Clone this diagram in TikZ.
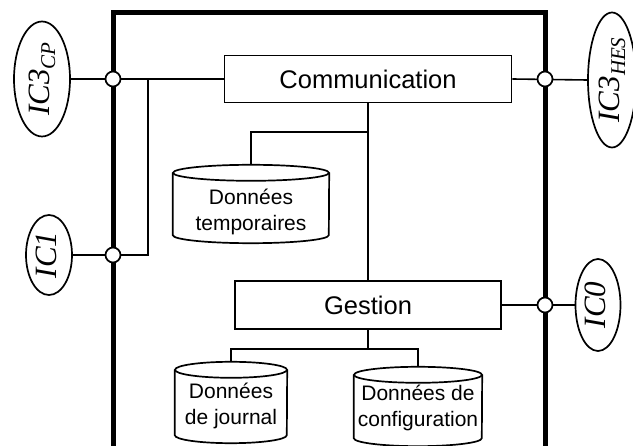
\documentclass[tikz,border=0pt]{standalone}
\usepackage{fontspec}
\setmainfont{Liberation Sans}
\newfontfamily\portfont{Liberation Serif}
\usetikzlibrary{shapes.geometric,calc}

% cylinder-shaped data store: name, cx, cy, width, height, text y, text
\newcommand\drum[7]{%
  \node[rectangle, inner sep=0pt, minimum width=#4pt, minimum height=#5pt] (#1) at (#2,#3) {};
  \draw[outline] ([yshift=-8pt]#1.north west) -- ([yshift=8pt]#1.south west)
    arc[start angle=180, end angle=360, x radius=#4pt/2, y radius=8pt]
    -- ([yshift=-8pt]#1.north east);
  \draw[outline] ([yshift=-8pt]#1.north) ellipse[x radius=#4pt/2, y radius=8pt];
  \node[store] (#1-label) at (#2,#6) {#7};
}
% rotated interface label
\newcommand\iface[2]{\rotatebox{90}{\portfont\itshape #1\raisebox{-6pt}{\fontsize{21}{21}\selectfont #2}}}

\begin{document}
\begin{tikzpicture}[x=1pt, y=-1pt,
  outline/.style={line width=1.7pt},
  wire/.style={line width=1.6pt},
  frame/.style={line width=5pt},
  block/.style={draw, line width=1.7pt, rectangle, inner sep=0pt,
    font=\fontsize{25.5}{30}\selectfont},
  port/.style={draw, line width=1.7pt, ellipse, inner sep=0pt,
    font=\fontsize{31}{31}\selectfont},
  joint/.style={draw, fill=white, circle, line width=1.7pt,
    minimum size=15pt, inner sep=0pt},
  store/.style={align=center, inner sep=0pt,
    font=\fontsize{21}{25.5}\selectfont},
]
\useasboundingbox (0,0) rectangle (633,446);

% system boundary
\draw[frame] (113,470) -- (113,13) -- (545,13) -- (545,470);

% functional blocks
\node[block, minimum width=287pt, minimum height=47pt] (comm) at (368,79) {Communication};
\node[block, minimum width=266pt, minimum height=48pt] (gest) at (368,305) {Gestion};

% data stores
\drum{temp}{251}{204}{156}{78}{212}{Données\\temporaires}
\drum{journal}{231}{402.5}{112}{81}{406}{Données\\de journal}
\drum{config}{418}{406.5}{128}{79}{408}{Données de\\configuration}

% external interfaces
\node[port, minimum width=56pt, minimum height=115pt] (ic3cp) at (42,79) {\iface{IC3}{CP}};
\node[port, minimum width=46pt, minimum height=80pt] (ic1) at (49,255) {\iface{IC1}{}};
\node[port, minimum width=48pt, minimum height=135pt] (ic3hes) at (612,80) {\iface{IC3}{HES}};
\node[port, minimum width=45pt, minimum height=92pt] (ic0) at (598,305) {\iface{IC0}{}};

% connections
\coordinate (tap) at (148,79);
\coordinate (split1) at (368,132);
\coordinate (split2) at (368,349);
\draw[wire] (ic3cp.east) -- (comm.west);
\draw[wire] (tap) |- (ic1.east);
\draw[wire] (comm.east) -- (ic3hes.west);
\draw[wire] (gest.east) -- (ic0.west);
\draw[wire] (comm.south) -- (gest.north);
\draw[wire] (temp.north) |- (split1);
\draw[wire] (gest.south) -- (split2);
\draw[wire] (journal.north) |- (split2) -| (config.north);

% boundary junctions
\node[joint] (jcp) at (113,79) {};
\node[joint] (j1) at (113,255) {};
\node[joint] (jhes) at (545,79) {};
\node[joint] (j0) at (545,305) {};
\end{tikzpicture}
\end{document}
